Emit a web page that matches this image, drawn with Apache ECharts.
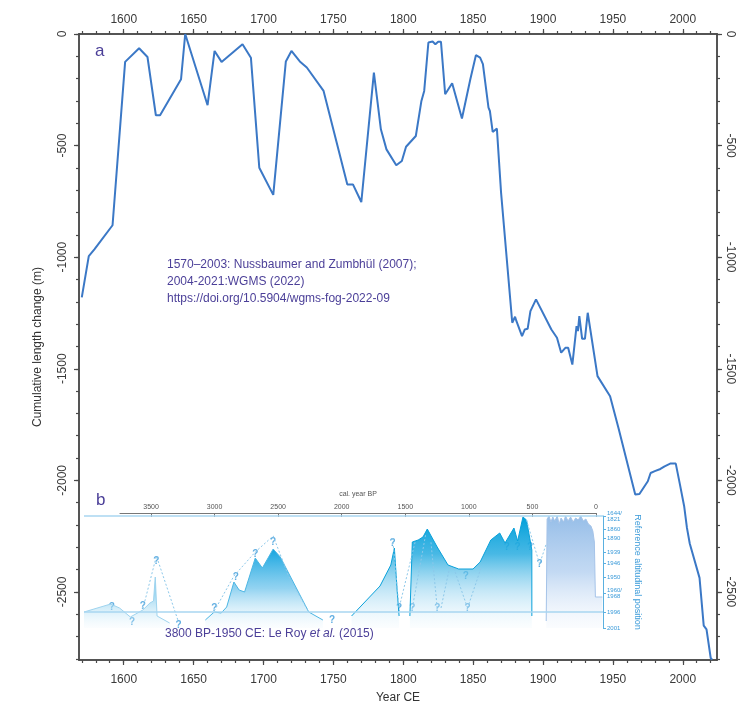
<!DOCTYPE html>
<html>
<head>
<meta charset="utf-8">
<script src="https://cdn.jsdelivr.net/npm/echarts@6.0.0/dist/echarts.min.js"></script>
<style>html,body{margin:0;padding:0;background:#fff}#main{width:738px;height:705px}</style>
</head>
<body>
<div id="main"></div>
<script>
// panel a: cumulative length change (m) by year CE
var years = [1570, 1575, 1579, 1592, 1601, 1611, 1617, 1623, 1626, 1641, 1644, 1660, 1665, 1670, 1685, 1691, 1697, 1707, 1716, 1720,
  1726, 1731, 1743, 1760, 1764, 1770, 1779, 1784, 1788, 1795, 1799, 1802, 1809, 1813, 1815, 1818, 1821, 1823, 1825, 1827,
  1830, 1835, 1842, 1848, 1852, 1855, 1857, 1861, 1862, 1864, 1867, 1870, 1878, 1880, 1881, 1885, 1887, 1889, 1891, 1895,
  1906, 1910, 1913, 1914, 1916, 1918, 1921, 1924, 1925, 1926, 1928, 1930, 1932, 1939, 1948, 1954, 1966, 1969, 1975, 1977,
  1980, 1984, 1987, 1991, 1995, 1998, 2001, 2003, 2005, 2006, 2012, 2013, 2015, 2017, 2020, 2021];
var lengthChange = [-1180, -995, -965, -857, -125, -64, -103, -364, -364, -203, 0, -319, -76, -125, -46, -106, -599, -721, -123, -76,
  -123, -150, -255, -674, -674, -753, -173, -427, -517, -588, -569, -505, -457, -300, -255, -38, -34, -46, -35, -35,
  -270, -221, -379, -203, -95, -106, -135, -330, -345, -439, -424, -711, -1294, -1267, -1287, -1354, -1324, -1321, -1242, -1189,
  -1324, -1361, -1428, -1436, -1406, -1406, -1481, -1309, -1331, -1264, -1366, -1366, -1249, -1533, -1623, -1765, -2063, -2061, -2004, -1967,
  -1959, -1949, -1937, -1925, -1925, -2019, -2116, -2213, -2283, -2288, -2437, -2445, -2651, -2668, -2796, -2803];
var yearTicks = [1600, 1650, 1700, 1750, 1800, 1850, 1900, 1950, 2000];
var lengthTicks = [0, -500, -1000, -1500, -2000, -2500];

// panel b: cal. year BP vs reference altitudinal position (0 = 1644/1821 level)
var refLabels = ['1644/\n1821', '1860', '1890', '1939', '1946', '1950', '1960/\n1968', '1996', '2001'];
var refPos = [0, 13, 22, 36, 47, 61, 77, 96, 112];
var bpTicks = [0, 500, 1000, 1500, 2000, 2500, 3000, 3500];

var bpEarly = [4030, 3820, 3750, 3665, 3567, 3511, 3483, 3469, 3455, 3356];
var posEarly = [96, 88, 92, 101, 94, 87, 85, 61, 100, 107];
var bpOld = [3075, 3005, 2950, 2907, 2850, 2809, 2766, 2682, 2626, 2541, 2485, 2261, 2150];
var posOld = [104, 96, 97, 91, 66, 74, 76, 42, 52, 33, 41, 96, 104];
var bpMid = [1924, 1700, 1615, 1587, 1565, 1550, null, 1465, 1446, 1400, 1362, 1328, 1250, 1165, 1081, 968, 912, 828, 758, 716, 646, 617, 575, 547, 505, 505];
var posMid = [100, 70, 49, 32, 75, 100, null, 100, 26, 24, 21, 13, 31, 49, 53, 53, 46, 24, 17, 27, 12, 25, 1, 4, 34, 100];
var bpRecent = [392, 385, 370, 355, 340, 325, 305, 290, 275, 255, 240, 220, 200, 180, 160, 140, 120, 100, 80, 60, 40, 25, 13, 5, -5, -50];
var posRecent = [105, 3, 0, 6, 1, 5, 0, 8, 2, 6, 0, 5, 1, 6, 2, 4, 0, 5, 3, 8, 10, 15, 26, 81, 81, 81];
var bpDash = [3567, 3460, 3286, null, 3005, 2850, 2682, 2541, 2420, 2261, null, 1601, 1550, 1420, null, 1446, 1340, null, 1250, 1300, null,
  1220, 1150, null, 1011, 1120, null, 1011, 900, null, 547, 444, 392];
var posDash = [93, 40, 106, null, 95, 60, 36, 20, 60, 96, null, 22, 92, 24, null, 92, 18, null, 92, 25, null,
  92, 50, null, 92, 52, null, 92, 50, null, 4, 48, 28];
var bpQ = [3811, 3651, 3567, 3460, 3286, 3005, 2836, 2682, 2541, 2078, 1601, 1550, 1446, 1250, 1011, 1025, 702, 617, 519, 444];
var posQ = [91, 106, 90, 45, 109, 92, 61, 38, 26, 104, 27, 92, 92, 92, 92, 60, 31, 31, 31, 48];

function zip(a, b) {
  return a.map(function (v, i) { return v === null ? '-' : [v, b[i]]; });
}
function range(a, b, s) { var r = []; for (var v = a; v <= b; v += s) r.push(v); return r; }
function plain(v) { return String(v); }

var txt = '#4b3f98';
var axisCol = '#4a4a4a';
var font = 'Liberation Sans, Arial, sans-serif';
var minorYears = range(1570, 2020, 10);
var minorLength = range(-2800, 0, 100);

function mainX(pos, ticks, len, labels, margin) {
  return {
    gridIndex: 0, type: 'value', position: pos, min: 1568, max: 2024.5,
    axisLine: { show: true, onZero: false, lineStyle: { color: axisCol, width: 1.5 } },
    axisTick: { show: true, customValues: ticks, length: len, lineStyle: { color: axisCol, width: 1.2 } },
    axisLabel: { show: labels, customValues: ticks, margin: margin, fontSize: 12, color: '#3a3a3a', fontFamily: font, formatter: plain },
    splitLine: { show: false }
  };
}
function mainY(pos, ticks, len, labels, rot, margin) {
  return {
    gridIndex: 0, type: 'value', position: pos, min: -2805, max: 0,
    axisLine: { show: true, onZero: false, lineStyle: { color: axisCol, width: 1.5 } },
    axisTick: { show: true, customValues: ticks, length: len, lineStyle: { color: axisCol, width: 1.2 } },
    axisLabel: { show: labels, customValues: ticks, rotate: rot, margin: margin, fontSize: 12, color: '#3a3a3a', fontFamily: font, formatter: plain },
    splitLine: { show: false }
  };
}

var xBottom = mainX('bottom', yearTicks, 5, true, 14);
xBottom.name = 'Year CE';
xBottom.nameLocation = 'middle';
xBottom.nameGap = 32;
xBottom.nameTextStyle = { fontSize: 12, color: '#333', fontFamily: font };
var yLeft = mainY('left', lengthTicks, 5, true, 90, 10);
yLeft.name = 'Cumulative length change (m)';
yLeft.nameLocation = 'middle';
yLeft.nameGap = 35;
yLeft.nameTextStyle = { fontSize: 12, color: '#333', fontFamily: font };

function grad(stops) {
  return new echarts.graphic.LinearGradient(0, 0, 0, 1, stops.map(function (c, i) {
    return { offset: i / (stops.length - 1), color: c };
  }));
}
var insetArea = { xAxisIndex: 5, yAxisIndex: 5, type: 'line', symbol: 'none', silent: true };

var chart = echarts.init(document.getElementById('main'));
chart.setOption({
  animation: false,
  backgroundColor: '#fff',
  grid: [
    { left: 79, right: 21, top: 34, bottom: 45, outerBoundsMode: 'none', containLabel: false },
    { left: 120, width: 476, top: 513, height: 115, outerBoundsMode: 'none', containLabel: false },
    { left: 84, width: 519, top: 516, height: 112, outerBoundsMode: 'none', containLabel: false }
  ],
  xAxis: [
    xBottom,
    mainX('bottom', minorYears, 3, false, 0),
    mainX('top', yearTicks, 5, true, 8),
    mainX('top', minorYears, 3, false, 0),
    {
      gridIndex: 1, type: 'value', position: 'top', min: 0, max: 3744, inverse: true,
      name: 'cal. year BP', nameLocation: 'middle', nameGap: 15,
      nameTextStyle: { fontSize: 7, color: '#555', fontFamily: font },
      axisLine: { onZero: false, lineStyle: { color: '#777', width: 1 } },
      axisTick: { customValues: bpTicks, inside: true, length: 4, lineStyle: { color: '#777' } },
      axisLabel: { customValues: bpTicks, fontSize: 7, color: '#555', margin: 2, fontFamily: font, formatter: plain },
      splitLine: { show: false }
    },
    { gridIndex: 2, type: 'value', min: -55, max: 4030, inverse: true, show: false }
  ],
  yAxis: [
    yLeft,
    mainY('left', minorLength, 3, false, 0, 0),
    mainY('right', lengthTicks, 5, true, -90, 7),
    mainY('right', minorLength, 3, false, 0, 0),
    { gridIndex: 1, type: 'value', show: false },
    {
      gridIndex: 2, type: 'value', position: 'right', min: 0, max: 112, inverse: true,
      name: 'Reference altitudinal position', nameLocation: 'middle', nameRotate: -90, nameGap: 19,
      nameTextStyle: { fontSize: 9, color: '#3a9ad9', fontFamily: font },
      axisLine: { show: true, onZero: false, lineStyle: { color: '#5ab0e0', width: 1 } },
      axisTick: { show: true, customValues: refPos, length: 3, lineStyle: { color: '#5ab0e0' } },
      axisLabel: {
        customValues: refPos, fontSize: 6, lineHeight: 6, color: '#3a9ad9', margin: 4, fontFamily: font,
        formatter: function (v) { var i = refPos.indexOf(v); return i < 0 ? '' : refLabels[i]; }
      },
      splitLine: { show: false }
    }
  ],
  series: [
    {
      name: 'Length change', type: 'line', xAxisIndex: 0, yAxisIndex: 0, symbol: 'none',
      data: zip(years, lengthChange), z: 5,
      lineStyle: { color: '#3b78c6', width: 2 }
    },
    Object.assign({}, insetArea, {
      name: 'early', data: zip(bpEarly, posEarly),
      lineStyle: { color: '#9fd4ef', width: 1 },
      areaStyle: { origin: 'end', opacity: 1, color: grad(['rgba(60,180,232,0.9)', 'rgba(150,212,240,0.6)', 'rgba(235,247,253,0.2)']) }
    }),
    Object.assign({}, insetArea, {
      name: 'old', data: zip(bpOld, posOld),
      lineStyle: { color: '#4cb6e4', width: 1 },
      areaStyle: { origin: 'end', opacity: 1, color: grad(['rgba(20,165,224,1)', 'rgba(110,196,236,0.75)', 'rgba(235,247,253,0.2)']) }
    }),
    Object.assign({}, insetArea, {
      name: 'mid', data: zip(bpMid, posMid),
      lineStyle: { color: '#0aa1da', width: 1 },
      areaStyle: { origin: 'end', opacity: 1, color: grad(['rgba(0,160,218,1)', 'rgba(40,172,224,0.85)', 'rgba(150,212,240,0.55)', 'rgba(235,247,253,0.2)']) },
      markLine: {
        silent: true, symbol: 'none', label: { show: false },
        lineStyle: { color: '#a9d6f0', width: 1.5, type: 'solid' },
        data: [{ yAxis: refPos[0] }, { yAxis: refPos[7] }]
      }
    }),
    Object.assign({}, insetArea, {
      name: 'recent', data: zip(bpRecent, posRecent),
      lineStyle: { color: '#a5c3e8', width: 1 },
      areaStyle: { origin: 'end', opacity: 1, color: grad(['rgba(150,190,232,1)', 'rgba(180,208,240,0.8)', 'rgba(240,245,252,0.3)']) }
    }),
    Object.assign({}, insetArea, {
      name: 'uncertain', data: zip(bpDash, posDash),
      lineStyle: { color: '#8cc8ea', width: 1, type: [2, 2] }
    }),
    {
      name: 'question', type: 'scatter', xAxisIndex: 5, yAxisIndex: 5, symbolSize: 0, silent: true,
      data: zip(bpQ, posQ),
      label: { show: true, formatter: '?', position: 'inside', fontSize: 10, fontWeight: 'bold', color: '#3a9ad9', fontFamily: font }
    }
  ],
  graphic: [
    { type: 'text', left: 95, top: 43, style: { text: 'a', font: '17px ' + font, fill: txt } },
    { type: 'text', left: 96, top: 492, style: { text: 'b', font: '17px ' + font, fill: txt } },
    { type: 'text', left: 167, top: 256, style: { text: '1570–2003: Nussbaumer and Zumbhül (2007);\n2004-2021:WGMS (2022)\nhttps://doi.org/10.5904/wgms-fog-2022-09', font: '12px ' + font, fill: txt, lineHeight: 17 } },
    { type: 'text', left: 165, top: 628, style: {
      text: '{n|3800 BP-1950 CE: Le Roy }{i|et al.}{n| (2015)}',
      rich: { n: { font: '12px ' + font, fill: txt, color: txt }, i: { font: 'italic 12px ' + font, fill: txt, color: txt } }
    } }
  ]
});
</script>
</body>
</html>
